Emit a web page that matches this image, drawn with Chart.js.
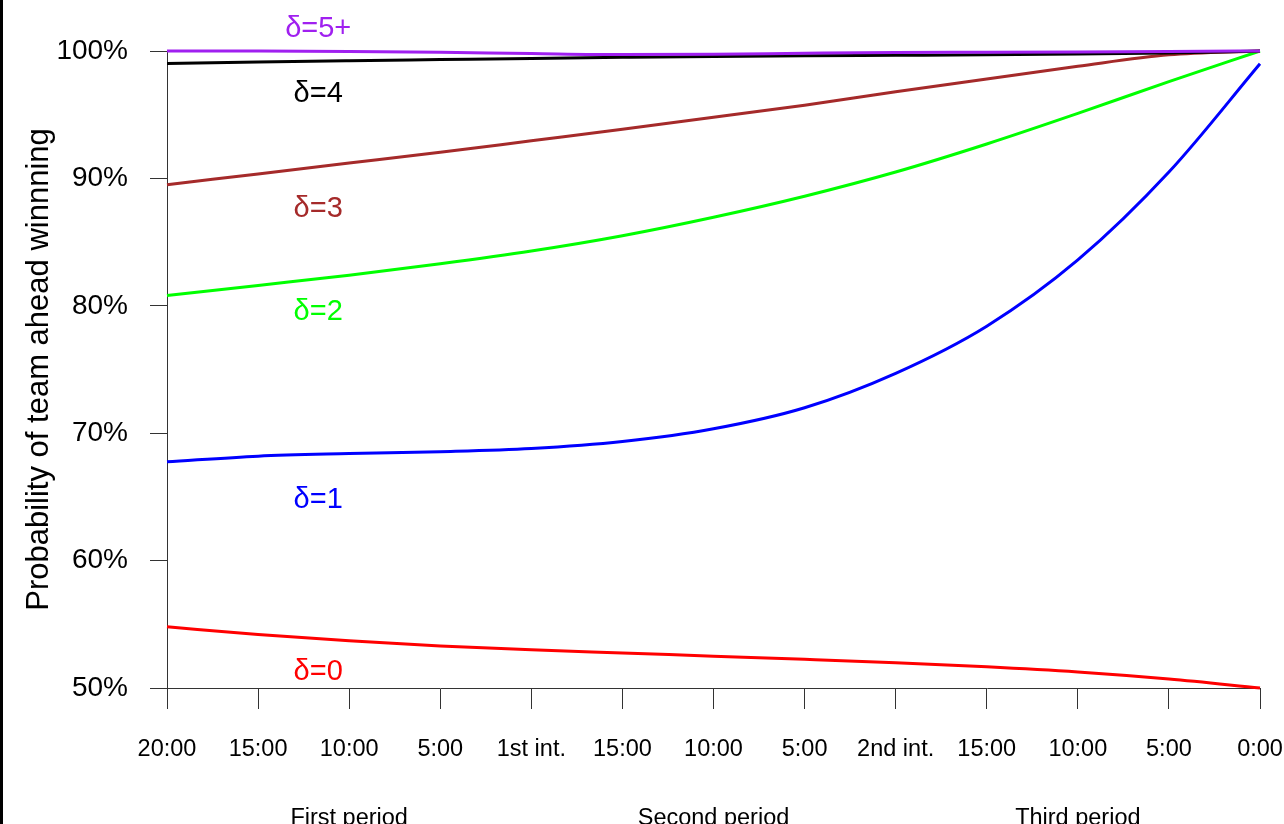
<!DOCTYPE html>
<html>
<head>
<meta charset="utf-8">
<script src="https://cdn.jsdelivr.net/npm/chart.js@4.4.1/dist/chart.umd.min.js"></script>
<style>
  html, body { margin: 0; padding: 0; background: #fff; }
  #wrap { position: relative; width: 1284px; height: 824px; overflow: hidden; }
  #edge { position: absolute; left: 0; top: 0; width: 3px; height: 824px; background: #000; }
  canvas { display: block; }
</style>
</head>
<body>
<div id="wrap">
  <canvas id="c" width="1284" height="824"></canvas>
  <div id="edge"></div>
</div>
<script>
// Game clock, one point every five minutes of play
const clockLabels = ['20:00', '15:00', '10:00', '5:00', '1st int.', '15:00', '10:00', '5:00', '2nd int.', '15:00', '10:00', '5:00', '0:00'];
const periodNames = ['First period', 'Second period', 'Third period'];
const periodCentres = [10, 30, 50];          // minutes elapsed
const yTickValues = [50, 60, 70, 80, 90, 100];

// Probability (%) that the team ahead by δ goals goes on to win
const lead0 = [54.8, 54.2, 53.7, 53.3, 53.0, 52.75, 52.5, 52.25, 51.98, 51.66, 51.25, 50.7, 50.0];
const lead1 = [67.75, 68.2, 68.4, 68.55, 68.8, 69.35, 70.35, 72.0, 74.7, 78.4, 83.6, 90.5, 99.0];
const lead2 = [80.8, 81.6, 82.4, 83.3, 84.3, 85.5, 86.95, 88.6, 90.5, 92.7, 95.1, 97.6, 100];
const lead3 = [89.5, 90.35, 91.2, 92.05, 92.95, 93.85, 94.8, 95.75, 96.8, 97.8, 98.8, 99.7, 100];
const lead4 = [99.02, 99.14, 99.24, 99.33, 99.42, 99.5, 99.57, 99.62, 99.66, 99.7, 99.76, 99.85, 100];
const lead5 = [100, 100, 99.97, 99.9, 99.8, 99.72, 99.75, 99.82, 99.88, 99.9, 99.93, 99.97, 100];

const seriesNames = ['δ=5+', 'δ=4', 'δ=3', 'δ=2', 'δ=1', 'δ=0'];
const seriesData = [lead5, lead4, lead3, lead2, lead1, lead0];
const seriesColors = ['#A020F0', '#000000', '#A52A2A', '#00FF00', '#0000FF', '#FF0000'];

// Where each curve's name is written (minutes elapsed, probability %)
const nameAt = [[8.3, 101.72], [8.3, 96.62], [8.3, 87.63], [8.3, 79.54], [8.3, 64.75], [8.3, 51.25]];

const FONT = "'Liberation Sans', Arial, sans-serif";
const AXIS = '#333';

const curveNames = {
  id: 'curveNames',
  afterDatasetsDraw(chart) {
    const { ctx } = chart;
    const xs = chart.scales.x2, ys = chart.scales.y;
    ctx.save();
    ctx.font = '29px ' + FONT;
    ctx.textAlign = 'center';
    ctx.textBaseline = 'middle';
    seriesNames.forEach((name, i) => {
      ctx.fillStyle = seriesColors[i];
      ctx.fillText(name, xs.getPixelForValue(nameAt[i][0]), ys.getPixelForValue(nameAt[i][1]));
    });
    ctx.restore();
  }
};

new Chart(document.getElementById('c'), {
  type: 'line',
  data: {
    labels: clockLabels,
    datasets: seriesData.map((d, i) => ({
      label: seriesNames[i],
      data: d,
      borderColor: seriesColors[i],
      borderWidth: 3,
      pointRadius: 0,
      fill: false,
      cubicInterpolationMode: 'monotone',
      clip: false,
      xAxisID: 'x',
      yAxisID: 'y'
    }))
  },
  options: {
    responsive: false,
    animation: false,
    devicePixelRatio: 1,
    layout: { padding: { top: 51, right: 24, bottom: 0, left: 0 } },
    plugins: { legend: { display: false }, tooltip: { enabled: false } },
    scales: {
      x: {
        type: 'category',
        position: 'bottom',
        offset: false,
        grid: { display: true, drawOnChartArea: false, drawTicks: true, tickLength: 21, tickColor: AXIS, tickWidth: 1, offset: false },
        border: { display: true, color: AXIS, width: 1 },
        ticks: { color: '#000', font: { family: FONT, size: 23.5 }, padding: 26, maxRotation: 0, autoSkip: false },
        afterFit(s) { s.height = 72; s.paddingLeft = 0; s.paddingRight = 0; }
      },
      x2: {
        type: 'linear',
        position: 'bottom',
        min: 0,
        max: 60,
        grid: { display: false, drawTicks: false },
        border: { display: false },
        afterBuildTicks(s) { s.ticks = periodCentres.map(v => ({ value: v })); },
        ticks: {
          color: '#000', font: { family: FONT, size: 23.5 }, padding: 44, maxRotation: 0, autoSkip: false,
          callback: (v) => periodNames[periodCentres.indexOf(v)]
        },
        afterFit(s) { s.height = 64; s.paddingLeft = 0; s.paddingRight = 0; }
      },
      y: {
        type: 'linear',
        min: 50,
        max: 100,
        afterBuildTicks(s) { s.ticks = yTickValues.map(v => ({ value: v })); },
        grid: { display: true, drawOnChartArea: false, drawTicks: true, tickLength: 17, tickColor: AXIS, tickWidth: 1 },
        border: { display: true, color: AXIS, width: 1 },
        ticks: { color: '#000', font: { family: FONT, size: 28 }, padding: 22, callback: (v) => v + '%' },
        title: { display: true, text: 'Probability of team ahead winnning', color: '#000', font: { family: FONT, size: 31 }, padding: { top: 21, bottom: 0 } },
        afterFit(s) { s.width = 167; }
      }
    }
  },
  plugins: [curveNames]
});
</script>
</body>
</html>
